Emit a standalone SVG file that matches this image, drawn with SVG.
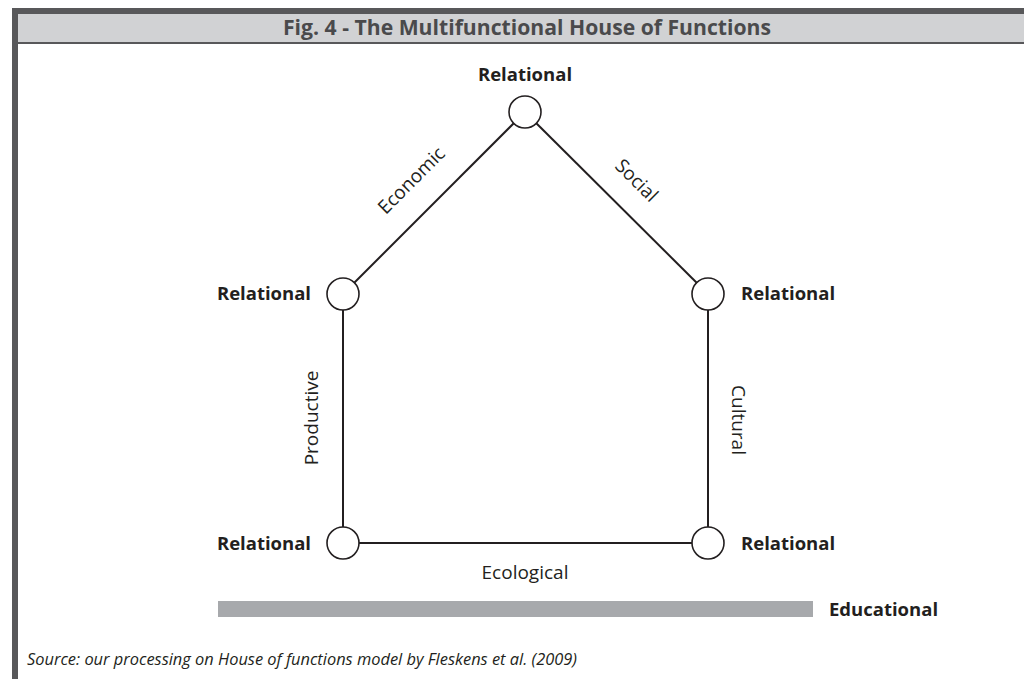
<svg xmlns="http://www.w3.org/2000/svg" width="1024" height="679" viewBox="0 0 1024 679">
<style>
.lbl{font-family:"Open Sans","Liberation Sans",sans-serif;font-size:18.5px;font-weight:bold;fill:#231f20}
.edge{font-family:"Open Sans","Liberation Sans",sans-serif;font-size:19px;fill:#231f20}
.node{fill:#fff;stroke:#231f20;stroke-width:1.6}
.con line{stroke:#231f20;stroke-width:2}
</style>
<rect width="1024" height="679" fill="#fff"/>
<rect x="12" y="8" width="1012" height="6" fill="#58585a"/>
<rect x="12" y="8" width="6" height="671" fill="#58585a"/>
<rect x="18" y="14" width="1006" height="29" fill="#d1d2d4"/>
<rect x="18" y="42" width="1006" height="2" fill="#58585a"/>
<text x="527" y="35" text-anchor="middle" font-family="Open Sans, Liberation Sans, sans-serif" font-size="21" font-weight="bold" fill="#4a4a4c" textLength="488" lengthAdjust="spacingAndGlyphs">Fig. 4 - The Multifunctional House of Functions</text>
<g id="connectors" class="con">
<line x1="525" y1="112" x2="343" y2="294"/>
<line x1="525" y1="112" x2="708" y2="294"/>
<line x1="343" y1="294" x2="343" y2="543"/>
<line x1="708" y1="294" x2="708" y2="543"/>
<line x1="343" y1="543" x2="708" y2="543"/>
</g>
<g id="edge-labels">
<text class="edge" x="0" y="0" text-anchor="middle" transform="translate(416,185) rotate(-45)">Economic</text>
<text class="edge" x="0" y="0" text-anchor="middle" transform="translate(632,185) rotate(45)">Social</text>
<text class="edge" x="0" y="0" text-anchor="middle" transform="translate(318,418) rotate(-90)">Productive</text>
<text class="edge" x="0" y="0" text-anchor="middle" transform="translate(732,420) rotate(90)">Cultural</text>
<text class="edge" x="525" y="579" text-anchor="middle">Ecological</text>
</g>
<g id="n-top"><circle class="node" cx="525" cy="112" r="16"/><text class="lbl" x="525" y="81" text-anchor="middle">Relational</text></g>
<g id="n-left"><circle class="node" cx="343" cy="294" r="16"/><text class="lbl" x="311" y="300" text-anchor="end">Relational</text></g>
<g id="n-right"><circle class="node" cx="708" cy="294" r="16"/><text class="lbl" x="741" y="300">Relational</text></g>
<g id="n-bl"><circle class="node" cx="343" cy="543" r="16"/><text class="lbl" x="311" y="550" text-anchor="end">Relational</text></g>
<g id="n-br"><circle class="node" cx="708" cy="543" r="16"/><text class="lbl" x="741" y="550">Relational</text></g>
<g id="educational">
<rect x="218" y="601" width="595" height="16" fill="#a7a9ac"/>
<text class="lbl" x="829" y="616">Educational</text>
</g>
<text x="27" y="665" font-family="Open Sans, Liberation Sans, sans-serif" font-size="16" font-style="italic" fill="#231f20" textLength="550" lengthAdjust="spacingAndGlyphs">Source: our processing on House of functions model by Fleskens et al. (2009)</text>
</svg>
